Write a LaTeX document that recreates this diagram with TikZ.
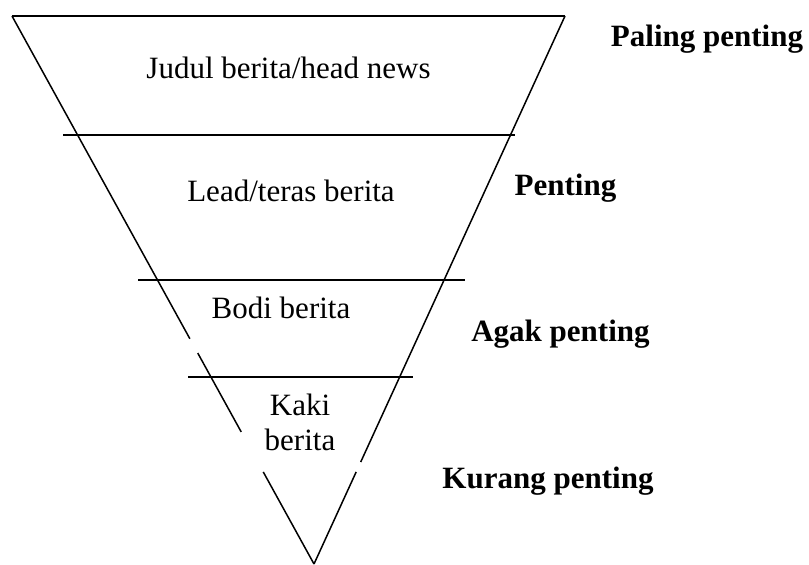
\documentclass[tikz,border=0pt]{standalone}
\usepackage{fontspec}
\setmainfont{Liberation Serif}
\usepackage{tikz}
\usetikzlibrary{calc}
\definecolor{Ink}{HTML}{000000}
\tikzset{
  every node/.append style={text=Ink},
  layer/.style={font=\fontsize{31}{34.5}\selectfont, align=center,
                inner sep=0pt, anchor=base},
  rank/.style={layer, font=\fontsize{31}{34.5}\selectfont\bfseries},
  rim/.style={draw=Ink, line width=1.5pt},
}
\begin{document}
\begin{tikzpicture}[x=1pt, y=-1pt]
  \useasboundingbox (0,0) rectangle (809,565);
  \coordinate (TL) at (12,16);
  \coordinate (TR) at (565,16);
  \coordinate (A) at (314,564);
  % funnel outline, the sides are broken in places
  \draw[rim] (TL) -- (TR);
  \draw[rim] (TL) -- ($(TL)!0.589!(A)$);
  \draw[rim] ($(TL)!0.615!(A)$) -- ($(TL)!0.759!(A)$);
  \draw[rim] ($(TL)!0.832!(A)$) -- (A);
  \draw[rim] (TR) -- ($(TR)!0.814!(A)$);
  \draw[rim] ($(TR)!0.832!(A)$) -- (A);
  % dividers
  \foreach \y/\l/\r in {135/63/515, 280/138/465, 377/188/413}
    \draw[rim] (\l,\y) -- (\r,\y);
  % layers
  \node[layer] (judul) at (288.5,78) {Judul berita/head news};
  \node[layer] (lead) at (291,201.7) {Lead/teras berita};
  \node[layer] (bodi) at (281,318) {Bodi berita};
  \node[layer, anchor=center] (kaki) at (300,422.5) {Kaki\\berita};
  % ranking
  \node[rank] (paling) at (707,46.7) {Paling penting};
  \node[rank] (penting) at (565.5,195) {Penting};
  \node[rank] (agak) at (560.5,341.7) {Agak penting};
  \node[rank] (kurang) at (548,488) {Kurang penting};
\end{tikzpicture}
\end{document}
